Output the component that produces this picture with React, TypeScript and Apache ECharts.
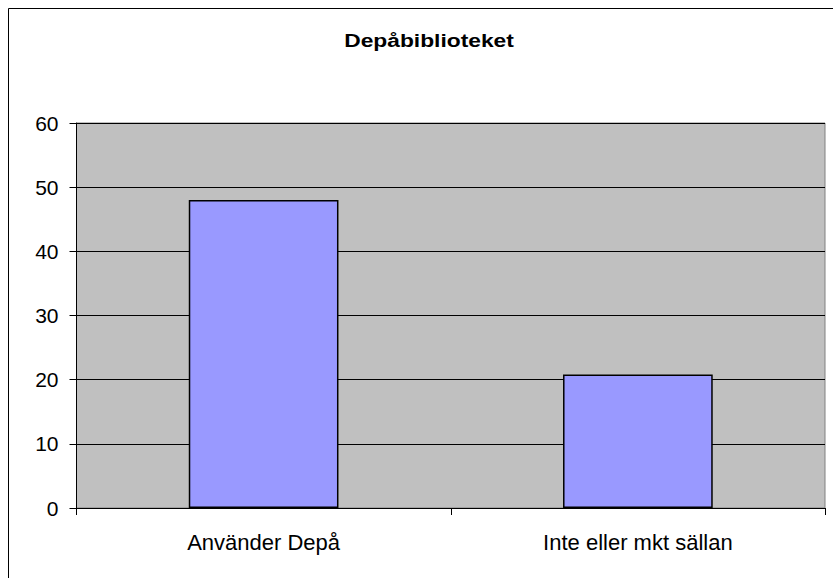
import React, { useEffect, useRef } from "react";
import * as echarts from "echarts";

const titleText = "Depåbiblioteket";
const categories = ["Använder Depå", "Inte eller mkt sällan"];
const values = [48, 20.8];
const yTicks = { min: 0, max: 60, interval: 10 };

export default function App() {
  const ref = useRef<HTMLDivElement>(null);
  useEffect(() => {
    document.body.style.margin = "0";
    const chart = echarts.init(ref.current!, null, { renderer: "svg" });
    chart.setOption({
      animation: false,
      backgroundColor: "#ffffff",
      textStyle: { fontFamily: "Liberation Sans, Arial, sans-serif" },
      graphic: [
        {
          type: "rect",
          shape: { x: 8.5, y: 8.5, width: 900, height: 900 },
          style: { fill: "none", stroke: "#000000", lineWidth: 1 },
          silent: true,
          z: -1,
        },
        {
          type: "text",
          x: 429,
          y: 40,
          scaleX: 1.2,
          style: {
            text: titleText,
            font: "bold 19px 'Liberation Sans', Arial, sans-serif",
            fill: "#000000",
            align: "center",
            verticalAlign: "middle",
          },
        },
      ],
      grid: {
        left: 76.5,
        top: 123,
        right: 8,
        bottom: 70,
        show: true,
        backgroundColor: "#c0c0c0",
        borderColor: "#808080",
        borderWidth: 1,
      },
      xAxis: {
        type: "category",
        data: categories,
        boundaryGap: true,
        axisLine: { show: true, lineStyle: { color: "#000000", width: 1 } },
        axisTick: { show: true, length: 7, lineStyle: { color: "#000000" } },
        axisLabel: {
          color: "#000000",
          fontSize: 22,
          margin: 23,
          fontFamily: "Liberation Sans, Arial, sans-serif",
        },
      },
      yAxis: {
        type: "value",
        min: yTicks.min,
        max: yTicks.max,
        interval: yTicks.interval,
        axisLine: { show: true, lineStyle: { color: "#000000", width: 1 } },
        axisTick: { show: true, length: 7, lineStyle: { color: "#000000" } },
        axisLabel: {
          color: "#000000",
          fontSize: 21,
          margin: 18,
          fontFamily: "Liberation Sans, Arial, sans-serif",
        },
        splitLine: { show: true, lineStyle: { color: "#000000", width: 1 } },
      },
      series: [
        {
          type: "bar",
          data: values,
          barWidth: "40%",
          itemStyle: { color: "#9999ff", borderColor: "#000000", borderWidth: 1.5 },
        },
      ],
    });
    return () => chart.dispose();
  }, []);
  return <div ref={ref} style={{ width: 833, height: 578 }} />;
}
